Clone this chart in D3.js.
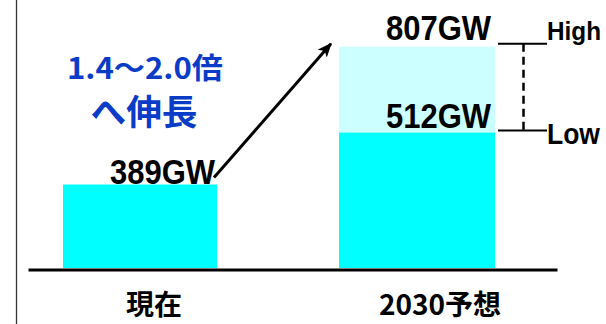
<!DOCTYPE html>
<html>
<head>
<meta charset="utf-8">
<script src="https://cdn.jsdelivr.net/npm/d3@7"></script>
<style>
  html, body { margin: 0; padding: 0; background: #fff; }
  svg { display: block; }
</style>
</head>
<body>
<svg id="chart" width="606" height="324"></svg>
<script>
// Installed capacity: current vs 2030 outlook (GW)
const categories = ["現在", "2030予想"];
const currentValue = 389;
const lowValue = 512;
const highValue = 807;
const valueLabels = ["389GW", "512GW", "807GW"];
const rangeLabels = ["High", "Low"];
const growthText = ["1.4～2.0倍", "へ伸長"];

const svg = d3.select("#chart");
const baseY = 268;

const x = d3.scaleBand()
  .domain(categories)
  .range([63, 493])
  .paddingInner(0.442)
  .paddingOuter(0);

// schematic vertical scale (not zero-based)
const y = d3.scaleLog()
  .domain([250, 810])
  .range([baseY, 46]);

const numFont = "'Liberation Sans', Arial, sans-serif";
const cjkFont = "'Noto Sans CJK JP', 'Noto Sans', sans-serif";

// left frame line
svg.append("line")
  .attr("x1", 16.5).attr("x2", 16.5)
  .attr("y1", 0).attr("y2", 324)
  .attr("stroke", "#333").attr("stroke-width", 1.3);

// bars
const bw = x.bandwidth();
svg.append("rect")
  .attr("x", x(categories[0])).attr("width", bw)
  .attr("y", y(currentValue)).attr("height", baseY - y(currentValue))
  .attr("fill", "#00ffff");

svg.append("rect")
  .attr("x", x(categories[1])).attr("width", bw + 2)
  .attr("y", y(highValue)).attr("height", baseY - y(highValue))
  .attr("fill", "#ccffff");

svg.append("rect")
  .attr("x", x(categories[1])).attr("width", bw + 2)
  .attr("y", y(lowValue)).attr("height", baseY - y(lowValue))
  .attr("fill", "#00ffff");

// baseline axis
const axis = d3.axisBottom(d3.scaleLinear().range([28, 557])).ticks(0).tickSize(0).tickSizeOuter(0);
const gAxis = svg.append("g").attr("transform", `translate(0,${baseY + 1.5})`).call(axis);
gAxis.select(".domain").attr("stroke", "#000").attr("stroke-width", 3);
gAxis.selectAll(".tick").remove();

// category labels
const labelShift = [14, 24];
svg.selectAll(".cat")
  .data(categories)
  .enter().append("text")
  .attr("class", "cat")
  .attr("x", (d, i) => x(d) + bw / 2 + labelShift[i])
  .attr("y", 315)
  .attr("text-anchor", "middle")
  .attr("font-family", cjkFont)
  .attr("font-weight", "bold")
  .attr("font-size", 28)
  .attr("fill", "#000")
  .text(d => d);

// value labels
const valueData = [
  { v: currentValue, cat: categories[0], text: valueLabels[0], dy: -0.5 },
  { v: lowValue, cat: categories[1], text: valueLabels[1], dy: -4.5 },
  { v: highValue, cat: categories[1], text: valueLabels[2], dy: -7 }
];
svg.selectAll(".val")
  .data(valueData)
  .enter().append("text")
  .attr("class", "val")
  .attr("x", d => x(d.cat) + bw - 2)
  .attr("y", d => y(d.v) + d.dy)
  .attr("text-anchor", "end")
  .attr("font-family", numFont)
  .attr("font-weight", "bold")
  .attr("font-size", 35)
  .attr("textLength", 105)
  .attr("lengthAdjust", "spacingAndGlyphs")
  .attr("fill", "#000")
  .text(d => d.text);

// High / Low range indicator
const rx0 = x(categories[1]) + bw + 5;
const rx1 = rx0 + 49;
const highY = y(highValue) - 3;
const lowY = y(lowValue) - 2;
svg.append("line").attr("x1", rx0).attr("x2", rx1).attr("y1", highY).attr("y2", highY)
  .attr("stroke", "#000").attr("stroke-width", 2);
svg.append("line").attr("x1", rx0).attr("x2", rx1).attr("y1", lowY).attr("y2", lowY)
  .attr("stroke", "#000").attr("stroke-width", 2);
svg.append("line").attr("x1", (rx0 + rx1) / 2 + 1).attr("x2", (rx0 + rx1) / 2 + 1)
  .attr("y1", highY).attr("y2", lowY)
  .attr("stroke", "#000").attr("stroke-width", 2.5).attr("stroke-dasharray", "8,5");

svg.append("text").attr("x", rx1).attr("y", highY - 4)
  .attr("font-family", numFont).attr("font-weight", "bold").attr("font-size", 25)
  .attr("textLength", 54).attr("lengthAdjust", "spacingAndGlyphs")
  .text(rangeLabels[0]);
svg.append("text").attr("x", rx1).attr("y", lowY + 13)
  .attr("font-family", numFont).attr("font-weight", "bold").attr("font-size", 29)
  .attr("textLength", 53).attr("lengthAdjust", "spacingAndGlyphs")
  .text(rangeLabels[1]);

// growth arrow
const defs = svg.append("defs");
defs.append("marker")
  .attr("id", "head")
  .attr("viewBox", "0 0 12 10")
  .attr("refX", 11).attr("refY", 5)
  .attr("markerWidth", 15).attr("markerHeight", 12)
  .attr("markerUnits", "userSpaceOnUse")
  .attr("orient", "auto")
  .append("path")
  .attr("d", "M0,0 L12,5 L0,10 L3,5 Z")
  .attr("fill", "#000");

svg.append("line")
  .attr("x1", x(categories[0]) + bw - 3)
  .attr("y1", y(currentValue) - 7)
  .attr("x2", x(categories[1]) - 8)
  .attr("y2", y(highValue) - 3)
  .attr("stroke", "#000").attr("stroke-width", 3)
  .attr("marker-end", "url(#head)");

// growth annotation
svg.append("text").attr("x", 145).attr("y", 79)
  .attr("text-anchor", "middle")
  .attr("font-family", cjkFont).attr("font-weight", "bold").attr("font-size", 29)
  .attr("textLength", 156).attr("lengthAdjust", "spacingAndGlyphs")
  .attr("fill", "#0a3cc8")
  .text(growthText[0]);
svg.append("text").attr("x", 144).attr("y", 125)
  .attr("text-anchor", "middle")
  .attr("font-family", cjkFont).attr("font-weight", "bold").attr("font-size", 35)
  .attr("textLength", 107).attr("lengthAdjust", "spacingAndGlyphs")
  .attr("fill", "#0a3cc8")
  .text(growthText[1]);
</script>
</body>
</html>
